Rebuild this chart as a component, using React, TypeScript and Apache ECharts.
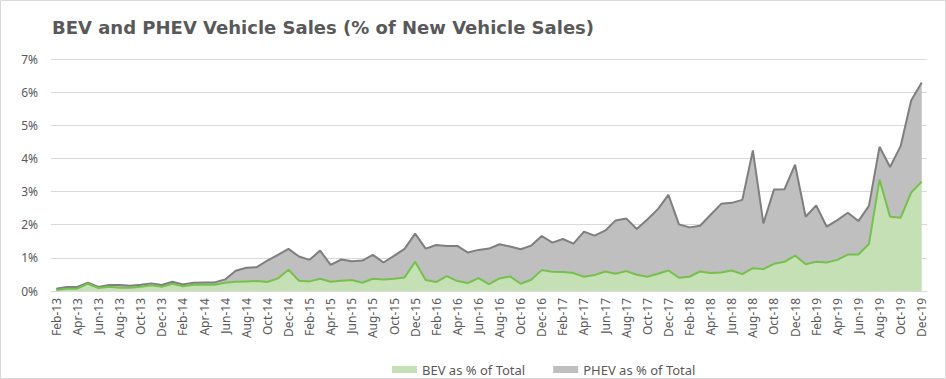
import React, { useEffect, useRef } from "react";
import * as echarts from "echarts";

const monthNames = ["Jan", "Feb", "Mar", "Apr", "May", "Jun", "Jul", "Aug", "Sep", "Oct", "Nov", "Dec"];
const categories: string[] = [];
for (let y = 13; y <= 19; y++) {
  for (let m = 0; m < 12; m++) {
    if (y === 13 && m === 0) continue;
    categories.push(`${monthNames[m]}-${y}`);
  }
}

// BEV share of new vehicle sales (%)
const bevShare = [
  0.03, 0.07, 0.07, 0.22, 0.09, 0.13, 0.10, 0.10, 0.13, 0.17, 0.13, 0.22,
  0.14, 0.19, 0.19, 0.19, 0.25, 0.28, 0.29, 0.30, 0.27, 0.38, 0.64, 0.31,
  0.29, 0.37, 0.28, 0.31, 0.33, 0.25, 0.37, 0.35, 0.37, 0.41, 0.88, 0.33,
  0.27, 0.45, 0.30, 0.24, 0.39, 0.21, 0.38, 0.44, 0.22, 0.34, 0.63, 0.58,
  0.57, 0.54, 0.43, 0.48, 0.59, 0.52, 0.60, 0.49, 0.43, 0.52, 0.62, 0.40,
  0.43, 0.59, 0.54, 0.56, 0.62, 0.51, 0.69, 0.66, 0.82, 0.88, 1.07, 0.81,
  0.88, 0.86, 0.94, 1.10, 1.10, 1.42, 3.36, 2.24, 2.21, 2.97, 3.30,
];

// PHEV share of new vehicle sales (%)
const phevShare = [
  0.04, 0.05, 0.05, 0.03, 0.03, 0.05, 0.08, 0.06, 0.06, 0.06, 0.05, 0.06,
  0.06, 0.06, 0.07, 0.07, 0.10, 0.33, 0.41, 0.42, 0.65, 0.71, 0.63, 0.73,
  0.65, 0.85, 0.51, 0.64, 0.57, 0.67, 0.72, 0.51, 0.69, 0.86, 0.85, 0.95,
  1.12, 0.91, 1.06, 0.92, 0.85, 1.07, 1.03, 0.90, 1.04, 1.03, 1.03, 0.88,
  1.00, 0.89, 1.36, 1.19, 1.23, 1.61, 1.59, 1.38, 1.73, 1.95, 2.28, 1.61,
  1.49, 1.38, 1.76, 2.07, 2.04, 2.24, 3.55, 1.38, 2.24, 2.19, 2.74, 1.43,
  1.70, 1.08, 1.20, 1.26, 1.01, 1.15, 0.99, 1.50, 2.16, 2.78, 2.99,
];

const seriesNames = ["BEV as % of Total", "PHEV as % of Total"];
const titleText = "BEV and PHEV Vehicle Sales (% of New Vehicle Sales)";

export default function App() {
  const ref = useRef<HTMLDivElement>(null);
  useEffect(() => {
    if (!ref.current) return;
    const chart = echarts.init(ref.current, undefined, { renderer: "svg" });
    const font = "'Noto Sans', sans-serif";
    chart.setOption({
      animation: false,
      backgroundColor: "#ffffff",
      textStyle: { fontFamily: font },
      title: {
        text: titleText,
        left: 47,
        top: 13,
        textStyle: { fontFamily: "'DejaVu Sans', sans-serif", fontSize: 18, fontWeight: "bold", color: "#595959" },
      },
      graphic: [
        {
          type: "rect",
          shape: { x: 0.5, y: 0.5, width: 945, height: 378 },
          style: { fill: "none", stroke: "#d9d9d9", lineWidth: 1 },
          silent: true,
        },
      ],
      legend: {
        left: 387,
        top: 358,
        icon: "rect",
        itemWidth: 25,
        itemHeight: 7,
        itemGap: 28,
        textStyle: { fontFamily: font, fontSize: 13, color: "#595959" },
        data: [
          { name: seriesNames[0], itemStyle: { color: "#c5e0b4", borderWidth: 0 } },
          { name: seriesNames[1], itemStyle: { color: "#bfbfbf", borderWidth: 0 } },
        ],
      },
      grid: { left: 51, right: 19, top: 59, bottom: 88, containLabel: false },
      xAxis: {
        type: "category",
        data: categories,
        boundaryGap: true,
        axisLine: { lineStyle: { color: "#d9d9d9" } },
        axisTick: { show: false },
        axisLabel: {
          interval: 1,
          rotate: 90,
          margin: 7,
          fontSize: 12,
          color: "#595959",
          fontFamily: font,
        },
      },
      yAxis: {
        type: "value",
        min: 0,
        max: 7,
        interval: 1,
        axisLine: { show: false },
        axisTick: { show: false },
        splitLine: { lineStyle: { color: "#d9d9d9" } },
        axisLabel: {
          formatter: "{value}%",
          fontSize: 12,
          color: "#595959",
          margin: 13,
          fontFamily: font,
        },
      },
      series: [
        {
          name: seriesNames[0],
          type: "line",
          stack: "ev",
          data: bevShare,
          symbol: "none",
          z: 3,
          itemStyle: { color: "#76c04e" },
          lineStyle: { color: "#76c04e", width: 2 },
          areaStyle: { color: "#c5e0b4", opacity: 1 },
        },
        {
          name: seriesNames[1],
          type: "line",
          stack: "ev",
          data: phevShare,
          symbol: "none",
          z: 2,
          itemStyle: { color: "#7f7f7f" },
          lineStyle: { color: "#7f7f7f", width: 2 },
          areaStyle: { color: "#bfbfbf", opacity: 1 },
        },
      ],
    });
    return () => chart.dispose();
  }, []);
  return (
    <div
      ref={ref}
      style={{ position: "absolute", left: 0, top: 0, width: 946, height: 379 }}
    />
  );
}
